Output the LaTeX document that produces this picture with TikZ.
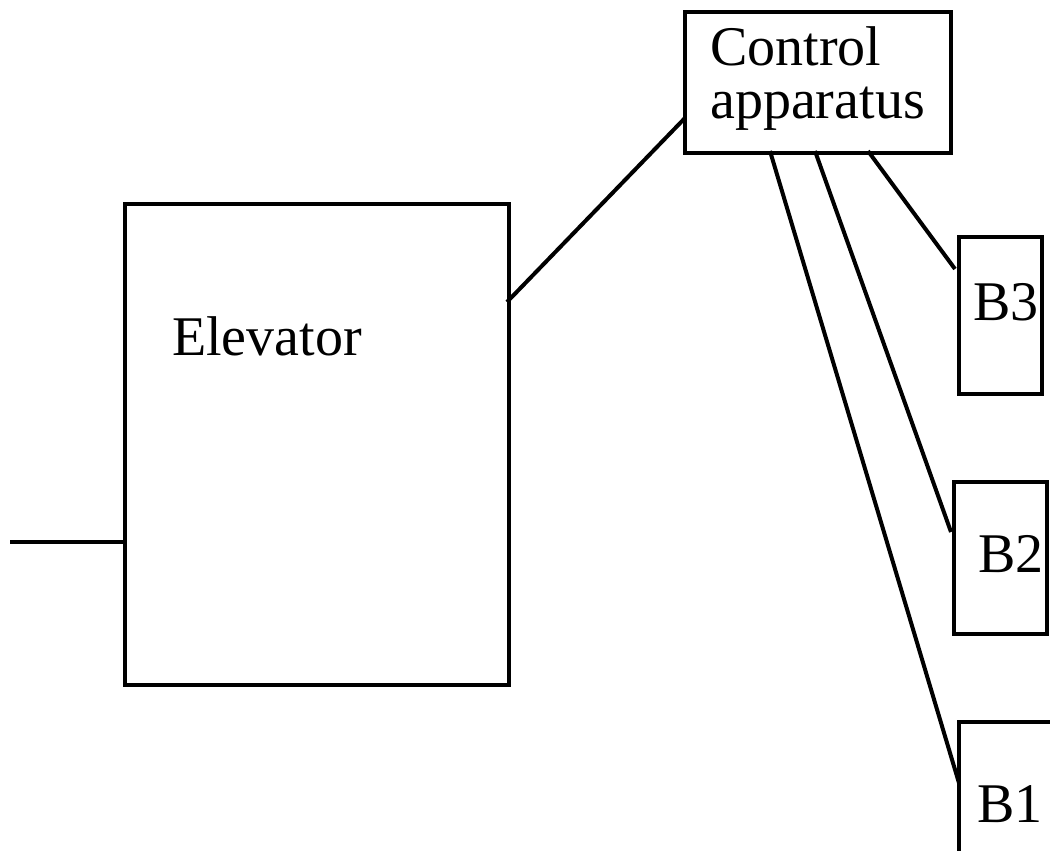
\documentclass[tikz,border=0pt]{standalone}
\usepackage{fontspec}
\setmainfont{Liberation Serif}
\begin{document}
\begin{tikzpicture}[x=1pt,y=-1pt,
  box/.style={draw, line width=4pt, rectangle, inner sep=0pt, anchor=north west},
  wire/.style={line width=4pt},
  txt/.style={anchor=base west, inner sep=0pt, font=\fontsize{56}{52}\selectfont}]
\useasboundingbox (0,0) rectangle (1050,851);
% boxes
\node[box, minimum width=384pt, minimum height=481pt] (elev) at (123,202) {};
\node[box, minimum width=266pt, minimum height=141pt] (ctrl) at (683,10) {};
\node[box, minimum width=83pt, minimum height=157pt] (b3) at (957,235) {};
\node[box, minimum width=93pt, minimum height=152pt] (b2) at (952,480) {};
\node[box, minimum width=150pt, minimum height=200pt] (b1) at (957,720) {};
% labels
\node[txt] (telev) at (172,355) {Elevator};
\node[txt] (tctrl1) at (710,66) {Control};
\node[txt] (tctrl2) at (710,118) {apparatus};
\node[txt] (tb3) at (973,320) {B3};
\node[txt] (tb2) at (978,572) {B2};
\node[txt] (tb1) at (977,822) {B1};
% attachment points
\coordinate (in) at (10,542);
\coordinate (elevL) at (elev.west |- in);
\coordinate (elevR) at (507,302);
\coordinate (ctrlL) at (685,118);
\coordinate (c1) at (770,151);
\coordinate (c2) at (815,151);
\coordinate (c3) at (868,151);
\coordinate (b3L) at (955,269);
\coordinate (b2L) at (951,532);
\coordinate (b1L) at (959,783);
% connectors
\draw[wire] (in) -- (elevL);
\draw[wire] (elevR) -- (ctrlL);
\draw[wire] (c3) -- (b3L);
\draw[wire] (c2) -- (b2L);
\draw[wire] (c1) -- (b1L);
\end{tikzpicture}
\end{document}
